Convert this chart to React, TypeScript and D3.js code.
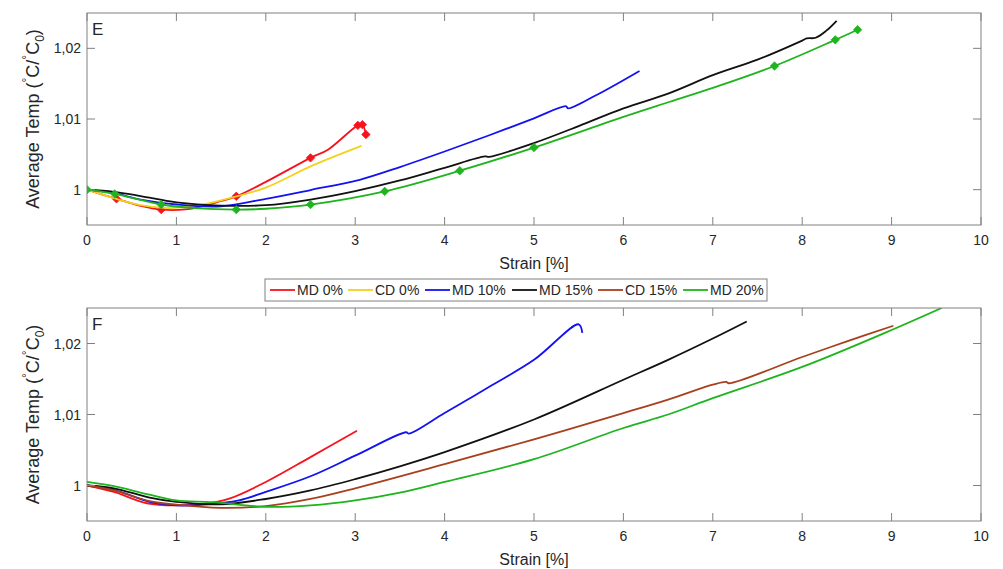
import React from "react";
import * as d3 from "d3";

// ---------- data ----------
const X_TICKS = [0, 1, 2, 3, 4, 5, 6, 7, 8, 9, 10];
const Y_TICKS = [1, 1.01, 1.02];
const Y_TICK_LABELS = ["1", "1,01", "1,02"];
const LEGEND_LABELS = ["MD 0%", "CD 0%", "MD 10%", "MD 15%", "CD 15%", "MD 20%"];
const LEGEND_COLORS = ["#f5141e", "#f2d21b", "#1212f0", "#111111", "#a8401e", "#1eb41e"];

// Panel E
const E_MD0_X = [0, 0.2, 0.33, 0.6, 0.83, 1.1, 1.3, 1.5, 1.67, 2.0, 2.5, 2.7, 3.03, 3.08, 3.12];
const E_MD0_Y = [1.0, 0.9992, 0.9987, 0.9977, 0.99718, 0.9972, 0.9977, 0.9984, 0.99906, 1.0011, 1.0045, 1.0057, 1.0091, 1.0092, 1.0078];
const E_MD0_MARKS = [2, 4, 8, 10, 12, 13, 14];

const E_CD0_X = [0, 0.3, 0.6, 0.9, 1.2, 1.5, 2.0, 2.5, 3.07];
const E_CD0_Y = [1.0, 0.9988, 0.9978, 0.9974, 0.9977, 0.9985, 1.0003, 1.0033, 1.0062];

const E_MD10_X = [0, 0.3, 0.6, 1.0, 1.5, 2.0, 2.5, 3.05, 3.5, 4.0, 4.5, 5.0, 5.36, 5.38, 5.7, 6.18];
const E_MD10_Y = [1.0, 0.9995, 0.9986, 0.9979, 0.99765, 0.9987, 0.99995, 1.0014, 1.0032, 1.0054, 1.0077, 1.0101, 1.0118, 1.0115, 1.0134, 1.0168];

const E_MD15_X = [0, 0.3, 0.6, 1.0, 1.5, 2.0, 2.5, 3.0, 3.5, 4.0, 4.45, 4.5, 5.0, 5.5, 6.0, 6.5, 7.0, 7.5, 8.0, 8.05, 8.15, 8.27, 8.385];
const E_MD15_Y = [1.0, 0.9997, 0.9991, 0.9982, 0.99775, 0.9978, 0.9986, 0.9998, 1.0013, 1.0031, 1.0047, 1.00465, 1.0066, 1.009, 1.0115, 1.0136, 1.0162, 1.0184, 1.0211, 1.0214, 1.0215, 1.0225, 1.0239];

const E_MD20_X = [0, 0.31, 0.83, 1.2, 1.67, 2.0, 2.5, 3.33, 4.17, 5.0, 6.0, 6.52, 7.0, 7.69, 8.37, 8.62];
const E_MD20_Y = [1.0, 0.9994, 0.9979, 0.9974, 0.99718, 0.9973, 0.99789, 0.99976, 1.00268, 1.00596, 1.0103, 1.01244, 1.0144, 1.0175, 1.0212, 1.02263];
const E_MD20_MARKS = [0, 1, 2, 4, 6, 7, 8, 9, 13, 14, 15];

// Panel F
const F_MD0_X = [0, 0.3, 0.67, 1.0, 1.3, 1.6, 2.0, 2.5, 3.02];
const F_MD0_Y = [1.0, 0.9991, 0.9975, 0.9972, 0.9974, 0.9982, 1.0005, 1.004, 1.0077];

const F_MD10_X = [0, 0.3, 0.7, 1.0, 1.3, 1.7, 2.0, 2.5, 3.0, 3.57, 3.6, 4.0, 4.5, 5.0, 5.5, 5.54];
const F_MD10_Y = [1.0, 0.9994, 0.9977, 0.9972, 0.9973, 0.9979, 0.9991, 1.0013, 1.0042, 1.0075, 1.0073, 1.0102, 1.0139, 1.0177, 1.0227, 1.0215];

const F_MD15_X = [0, 0.3, 0.7, 1.0, 1.5, 2.0, 2.5, 3.0, 3.5, 4.0, 5.0, 6.0, 6.5, 7.0, 7.38];
const F_MD15_Y = [1.0, 0.9996, 0.9983, 0.9977, 0.99735, 0.9981, 0.9993, 1.0009, 1.0027, 1.0047, 1.0093, 1.0149, 1.0177, 1.0207, 1.0231];

const F_CD15_X = [0, 0.3, 0.7, 1.0, 1.5, 2.0, 2.5, 3.0, 4.0, 5.0, 6.0, 6.5, 7.0, 7.15, 7.18, 8.0, 8.5, 9.02];
const F_CD15_Y = [1.0, 0.9993, 0.9978, 0.9973, 0.99685, 0.9971, 0.9981, 0.9996, 1.003, 1.0065, 1.0102, 1.0121, 1.0142, 1.0146, 1.0144, 1.0181, 1.0203, 1.0225];

const F_MD20_X = [0, 0.3, 0.67, 1.0, 1.4, 2.0, 2.5, 3.0, 3.5, 4.0, 5.0, 6.0, 6.5, 7.0, 8.0, 9.0, 9.56];
const F_MD20_Y = [1.0005, 0.9999, 0.9988, 0.9979, 0.99765, 0.997, 0.9972, 0.9979, 0.999, 1.0005, 1.0037, 1.0081, 1.01, 1.0123, 1.0167, 1.0219, 1.025];

// ---------- layout ----------
const W = 1003;
const H = 569;
const FONT = "Arial, 'Liberation Sans', Helvetica, sans-serif";
const TEXT = "#262626";
const AXIS = "#808080";

type Series = { x: number[]; y: number[]; color: string; marks?: number[] };

const PANEL_E: Series[] = [
  { x: E_MD0_X, y: E_MD0_Y, color: LEGEND_COLORS[0], marks: E_MD0_MARKS },
  { x: E_CD0_X, y: E_CD0_Y, color: LEGEND_COLORS[1] },
  { x: E_MD10_X, y: E_MD10_Y, color: LEGEND_COLORS[2] },
  { x: E_MD15_X, y: E_MD15_Y, color: LEGEND_COLORS[3] },
  { x: E_MD20_X, y: E_MD20_Y, color: LEGEND_COLORS[5], marks: E_MD20_MARKS },
];
const PANEL_F: Series[] = [
  { x: F_MD0_X, y: F_MD0_Y, color: LEGEND_COLORS[0] },
  { x: F_MD10_X, y: F_MD10_Y, color: LEGEND_COLORS[2] },
  { x: F_MD15_X, y: F_MD15_Y, color: LEGEND_COLORS[3] },
  { x: F_CD15_X, y: F_CD15_Y, color: LEGEND_COLORS[4] },
  { x: F_MD20_X, y: F_MD20_Y, color: LEGEND_COLORS[5] },
];

const MARKER = "M0,-4.2L4.2,0L0,4.2L-4.2,0Z";

function Panel({ top, bottom, label, series }: { top: number; bottom: number; label: string; series: Series[] }) {
  const left = 87;
  const right = 981;
  const x = d3.scaleLinear().domain([0, 10]).range([left, right]);
  const y = d3.scaleLinear().domain([0.995, 1.025]).range([bottom, top]);
  const line = d3
    .line<[number, number]>()
    .x((d) => x(d[0]))
    .y((d) => y(d[1]))
    .curve(d3.curveCatmullRom.alpha(0.5));
  const tl = 8;
  const yMid = (top + bottom) / 2;
  return (
    <g>
      <defs>
        <clipPath id={"clip" + label}>
          <rect x={left} y={top} width={right - left} height={bottom - top} />
        </clipPath>
      </defs>
      <g clipPath={`url(#clip${label})`}>
        {series.map((s, i) => {
          const pts: [number, number][] = s.x.map((v, j) => [v, s.y[j]]);
          return (
            <g key={i}>
              <path d={line(pts) || ""} fill="none" stroke={s.color} strokeWidth={1.8} strokeLinejoin="round" />
              {(s.marks || []).map((m) => (
                <path key={m} d={MARKER} transform={`translate(${x(pts[m][0])},${y(pts[m][1])})`} fill={s.color} stroke={s.color} strokeWidth={0.8} />
              ))}
            </g>
          );
        })}
      </g>
      <rect x={left} y={top} width={right - left} height={bottom - top} fill="none" stroke={AXIS} strokeWidth={1} />
      {X_TICKS.map((t) => (
        <g key={t}>
          <line x1={x(t)} x2={x(t)} y1={bottom} y2={bottom - tl} stroke={AXIS} />
          <line x1={x(t)} x2={x(t)} y1={top} y2={top + tl} stroke={AXIS} />
          <text x={x(t)} y={bottom + 20} textAnchor="middle" fontSize={14} fill={TEXT} fontFamily={FONT}>
            {t}
          </text>
        </g>
      ))}
      {Y_TICKS.map((t, i) => (
        <g key={t}>
          <line x1={left} x2={left + tl} y1={y(t)} y2={y(t)} stroke={AXIS} />
          <line x1={right} x2={right - tl} y1={y(t)} y2={y(t)} stroke={AXIS} />
          <text x={left - 6} y={y(t) + 5} textAnchor="end" fontSize={14} fill={TEXT} fontFamily={FONT}>
            {Y_TICK_LABELS[i]}
          </text>
        </g>
      ))}
      <text x={left + 5} y={top + 22} fontSize={17} fill={TEXT} fontFamily={FONT}>
        {label}
      </text>
      <text x={(left + right) / 2} y={bottom + 44} textAnchor="middle" fontSize={16} fill={TEXT} fontFamily={FONT}>
        Strain [%]
      </text>
      <text
        transform={`translate(39,${yMid}) rotate(-90)`}
        textAnchor="middle"
        fontSize={18}
        fill={TEXT}
        fontFamily={FONT}
      >
        Average Temp (
        <tspan dy={-8} fontSize={12}>°</tspan>
        <tspan dy={8}>C/</tspan>
        <tspan dy={-8} fontSize={12}>°</tspan>
        <tspan dy={8}>C</tspan>
        <tspan dy={5} fontSize={12}>0</tspan>
        <tspan dy={-5}>)</tspan>
      </text>
    </g>
  );
}

function Legend() {
  const boxX = 265;
  const boxY = 279;
  const boxW = 502;
  const boxH = 22;
  const itemX = [270, 348, 425, 512, 598, 683];
  return (
    <g>
      <rect x={boxX} y={boxY} width={boxW} height={boxH} fill="#fff" stroke={AXIS} strokeWidth={1} />
      {LEGEND_LABELS.map((l, i) => (
        <g key={l}>
          <line x1={itemX[i]} x2={itemX[i] + 25} y1={boxY + boxH / 2} y2={boxY + boxH / 2} stroke={LEGEND_COLORS[i]} strokeWidth={1.8} />
          <text x={itemX[i] + 27} y={boxY + boxH / 2 + 5} fontSize={14} fill={TEXT} fontFamily={FONT}>
            {l}
          </text>
        </g>
      ))}
    </g>
  );
}

export default function App() {
  return (
    <svg width={W} height={H} style={{ position: "absolute", left: 0, top: 0, background: "#fff" }}>
      <rect x={0} y={0} width={W} height={H} fill="#fff" />
      <Panel top={13} bottom={225} label="E" series={PANEL_E} />
      <Panel top={308} bottom={521} label="F" series={PANEL_F} />
      <Legend />
    </svg>
  );
}
